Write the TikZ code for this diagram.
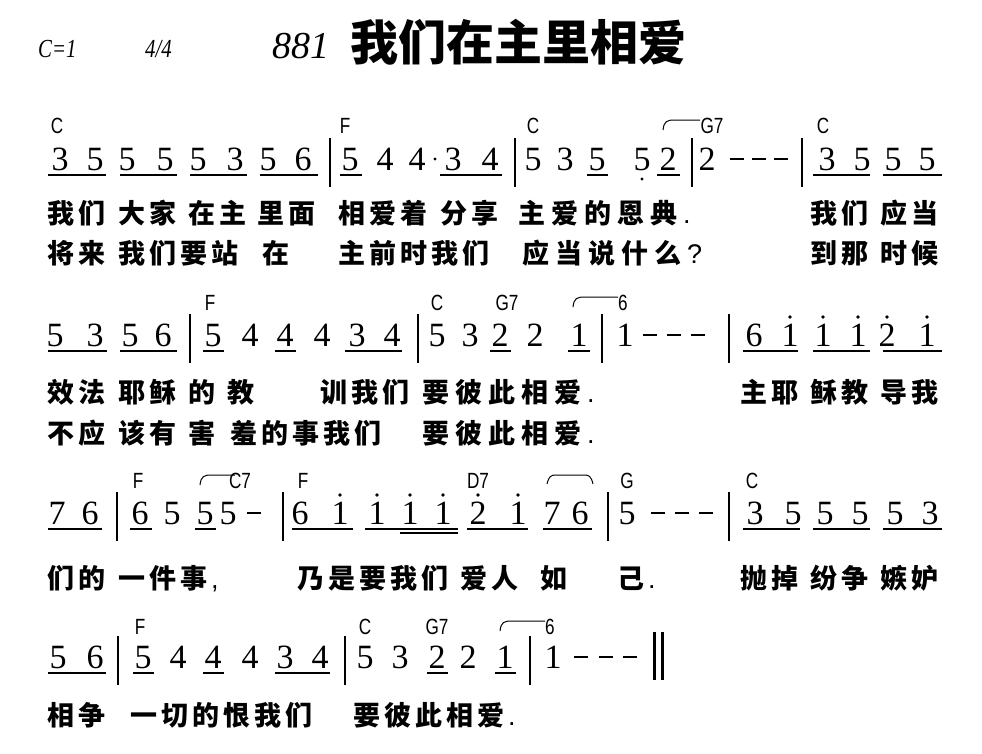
\documentclass[tikz,border=0pt]{standalone}
\usepackage{fontspec}
\setmainfont{Liberation Serif}
\newfontfamily\cjk{Noto Sans CJK SC}
\newfontfamily\chdfont{Liberation Sans}
\newfontfamily\lat{Liberation Sans}
\makeatletter
\newcommand\ly[4]{\def\lx{#1}\@tfor\lc:=#4\do{\node[lyr] at (\lx,#2+10) {\lc};\pgfmathsetmacro\lx{\lx+#3}}}
\makeatother
\tikzset{
 note/.style={font=\fontsize{34}{34}\selectfont, anchor=base, inner sep=0},
 lyr/.style={font=\cjk\bfseries\fontsize{27}{27}\selectfont, anchor=base west, inner sep=0},
 chd/.style={font=\chdfont\fontsize{22}{22}\selectfont, anchor=base, inner sep=0},
 ulin/.style={line width=1.3pt},
 barl/.style={line width=2.6pt},
 dsh/.style={line width=2pt},
}
\newcommand\nt[3]{\node[note] at (#1,#2) {#3};}
\newcommand\ul[3]{\draw[ulin] (#1,#3+5) -- (#2,#3+5);}
\newcommand\bl[2]{\draw[barl] (#1,#2-32) -- (#1,#2+17);}
\newcommand\ds[2]{\draw[dsh] (#1-7,#2-11) -- (#1+7,#2-11);}
\newcommand\ch[3]{\node[chd] at (#1,#2) {\scalebox{0.78}[1]{#3}};}
\newcommand\hi[2]{\fill (#1,#2-29) circle (1.8);}
\newcommand\lo[2]{\fill (#1,#2+9) circle (1.6);}
\newcommand\tie[3]{\draw[line width=1pt] (#1,#3+9) .. controls (#1+1,#3) and (#1+4,#3-1) .. (#1+12,#3-1) -- (#2,#3-1);}
\newcommand\pd{{\lat\mdseries.}}
\begin{document}
\begin{tikzpicture}[x=1pt,y=-1pt]
\useasboundingbox (0,0) rectangle (982,753);
% header
\node[anchor=base west,inner sep=0,font=\itshape\fontsize{26}{26}\selectfont] (key) at (38,57) {\scalebox{0.8}[1]{C=1}};
\node[anchor=base west,inner sep=0,font=\itshape\fontsize{26}{26}\selectfont] (meter) at (145,57) {\scalebox{0.8}[1]{4/4}};
\node[anchor=base west,inner sep=0,font=\itshape\fontsize{38}{38}\selectfont] (num) at (272,58) {881};
\node[anchor=base west,inner sep=0,font=\cjk\bfseries\fontsize{48}{48}\selectfont] (title) at (350,60) {我们在主里相爱};
% ---------- row 1
\def\b{170}\def\c{133}
\ch{57}{\c}{C}\ch{345}{\c}{F}\ch{533}{\c}{C}\ch{712}{\c}{G7}\ch{823}{\c}{C}
\tie{663}{700}{\c-12}
\nt{60}{\b}{3}\nt{95}{\b}{5}\nt{127}{\b}{5}\nt{165}{\b}{5}\nt{198}{\b}{5}\nt{235}{\b}{3}\nt{268}{\b}{5}\nt{303}{\b}{6}
\ul{48}{106}{\b}\ul{120}{177}{\b}\ul{190}{247}{\b}\ul{260}{318}{\b}
\bl{330}{\b}
\nt{350}{\b}{5}\nt{385}{\b}{4}\nt{417}{\b}{4}\fill (435,\b-11) circle (1.7);\nt{453}{\b}{3}\nt{490}{\b}{4}
\ul{340}{362}{\b}\ul{440}{502}{\b}
\bl{515}{\b}
\nt{533}{\b}{5}\nt{565}{\b}{3}\nt{597}{\b}{5}\nt{642}{\b}{5}\lo{642}{\b}\nt{668}{\b}{2}
\ul{587}{608}{\b}\ul{657}{680}{\b}
\bl{692}{\b}
\nt{707}{\b}{2}\ds{737}{\b}\ds{759}{\b}\ds{781}{\b}
\bl{802}{\b}
\nt{827}{\b}{3}\nt{862}{\b}{5}\nt{893}{\b}{5}\nt{927}{\b}{5}
\ul{813}{870}{\b}\ul{883}{942}{\b}
\ly{47}{213}{31}{我们}\ly{118}{213}{31}{大家}\ly{188}{213}{31}{在主}\ly{257}{213}{31}{里面}
\ly{338}{213}{31}{相爱着}\ly{440}{213}{31}{分享}\ly{518}{213}{33}{主爱的恩典\pd}
\ly{810}{213}{31}{我们}\ly{880}{213}{31}{应当}
\ly{47}{253}{31}{将来}\ly{118}{253}{31}{我们要站}\ly{262}{253}{31}{在}
\ly{338}{253}{31}{主前时我们}\ly{522}{253}{33}{应当说什么{\lat\mdseries?}}
\ly{810}{253}{31}{到那}\ly{880}{253}{31}{时候}
% ---------- row 2
\def\b{346}\def\c{310}
\ch{210}{\c}{F}\ch{437}{\c}{C}\ch{507}{\c}{G7}\ch{623}{\c}{6}
\tie{573}{618}{\c-12}
\nt{55}{\b}{5}\nt{95}{\b}{3}\nt{130}{\b}{5}\nt{163}{\b}{6}
\ul{48}{107}{\b}\ul{120}{177}{\b}
\bl{190}{\b}
\nt{213}{\b}{5}\nt{250}{\b}{4}\nt{285}{\b}{4}\nt{322}{\b}{4}\nt{357}{\b}{3}\nt{392}{\b}{4}
\ul{203}{224}{\b}\ul{275}{296}{\b}\ul{345}{402}{\b}
\bl{418}{\b}
\nt{437}{\b}{5}\nt{470}{\b}{3}\nt{500}{\b}{2}\nt{535}{\b}{2}\nt{579}{\b}{1}
\ul{490}{511}{\b}\ul{568}{590}{\b}
\bl{602}{\b}
\nt{625}{\b}{1}\ds{650}{\b}\ds{674}{\b}\ds{698}{\b}
\bl{729}{\b}
\nt{754}{\b}{6}\nt{790}{\b}{1}\hi{790}{\b}\nt{823}{\b}{1}\hi{823}{\b}\nt{858}{\b}{1}\hi{858}{\b}
\nt{887}{\b}{2}\hi{887}{\b}\nt{927}{\b}{1}\hi{927}{\b}
\ul{743}{798}{\b}\ul{813}{870}{\b}\ul{883}{942}{\b}
\ly{47}{392}{31}{效法}\ly{118}{392}{31}{耶稣}\ly{188}{392}{31}{的}\ly{227}{392}{31}{教}
\ly{320}{392}{31}{训我们}\ly{422}{392}{33}{要彼此相爱\pd}
\ly{740}{392}{31}{主耶}\ly{810}{392}{31}{稣教}\ly{880}{392}{31}{导我}
\ly{47}{433}{31}{不应}\ly{118}{433}{31}{该有}\ly{188}{433}{31}{害}\ly{230}{433}{31}{羞的事我们}
\ly{422}{433}{33}{要彼此相爱\pd}
% ---------- row 3
\def\b{524}\def\c{488}
\ch{138}{\c}{F}\ch{240}{\c}{C7}\ch{303}{\c}{F}\ch{478}{\c}{D7}\ch{627}{\c}{G}\ch{752}{\c}{C}
\tie{200}{235}{\c-12}
\draw[line width=1pt] (547,\c-4) .. controls (549,\c-12) and (551,\c-13) .. (556,\c-13) -- (584,\c-13) .. controls (589,\c-13) and (591,\c-12) .. (593,\c-4);
\nt{57}{\b}{7}\nt{90}{\b}{6}\ul{48}{102}{\b}
\bl{117}{\b}
\nt{140}{\b}{6}\nt{172}{\b}{5}\nt{205}{\b}{5}\nt{228}{\b}{5}\ds{254}{\b}
\ul{130}{152}{\b}\ul{195}{216}{\b}
\bl{283}{\b}
\nt{300}{\b}{6}\nt{340}{\b}{1}\hi{340}{\b}\nt{377}{\b}{1}\hi{377}{\b}\nt{410}{\b}{1}\hi{410}{\b}\nt{443}{\b}{1}\hi{443}{\b}
\nt{478}{\b}{2}\hi{478}{\b}\nt{518}{\b}{1}\hi{518}{\b}\nt{552}{\b}{7}\nt{580}{\b}{6}
\ul{292}{353}{\b}\ul{365}{458}{\b}\ul{400}{458}{\b+4}\ul{467}{528}{\b}\ul{543}{592}{\b}
\bl{608}{\b}
\nt{627}{\b}{5}\ds{658}{\b}\ds{682}{\b}\ds{706}{\b}
\bl{729}{\b}
\nt{755}{\b}{3}\nt{793}{\b}{5}\nt{825}{\b}{5}\nt{860}{\b}{5}\nt{895}{\b}{5}\nt{930}{\b}{3}
\ul{743}{800}{\b}\ul{813}{870}{\b}\ul{883}{942}{\b}
\ly{47}{578}{31}{们的}\ly{118}{578}{31}{一件事{\lat\mdseries,}}\ly{297}{578}{31}{乃是要我们}
\ly{460}{578}{31}{爱人}\ly{540}{578}{31}{如}\ly{617}{578}{31}{己\pd}
\ly{740}{578}{31}{抛掉}\ly{810}{578}{31}{纷争}\ly{880}{578}{31}{嫉妒}
% ---------- row 4
\def\b{668}\def\c{634}
\ch{140}{\c}{F}\ch{365}{\c}{C}\ch{437}{\c}{G7}\ch{550}{\c}{6}
\tie{500}{545}{\c-12}
\nt{58}{\b}{5}\nt{95}{\b}{6}\ul{48}{106}{\b}
\bl{118}{\b}
\nt{143}{\b}{5}\nt{178}{\b}{4}\nt{213}{\b}{4}\nt{250}{\b}{4}\nt{285}{\b}{3}\nt{320}{\b}{4}
\ul{133}{154}{\b}\ul{203}{224}{\b}\ul{275}{330}{\b}
\bl{345}{\b}
\nt{365}{\b}{5}\nt{400}{\b}{3}\nt{437}{\b}{2}\nt{468}{\b}{2}\nt{505}{\b}{1}
\ul{427}{448}{\b}\ul{495}{516}{\b}
\bl{530}{\b}
\nt{553}{\b}{1}\ds{581}{\b}\ds{606}{\b}\ds{630}{\b}
\draw[line width=3pt] (654,\b-36) -- (654,\b+12);
\draw[line width=3pt] (662,\b-36) -- (662,\b+12);
\ly{47}{715}{31}{相争}\ly{130}{715}{31}{一切的恨我们}\ly{353}{715}{31}{要彼此相爱\pd}
\end{tikzpicture}
\end{document}
